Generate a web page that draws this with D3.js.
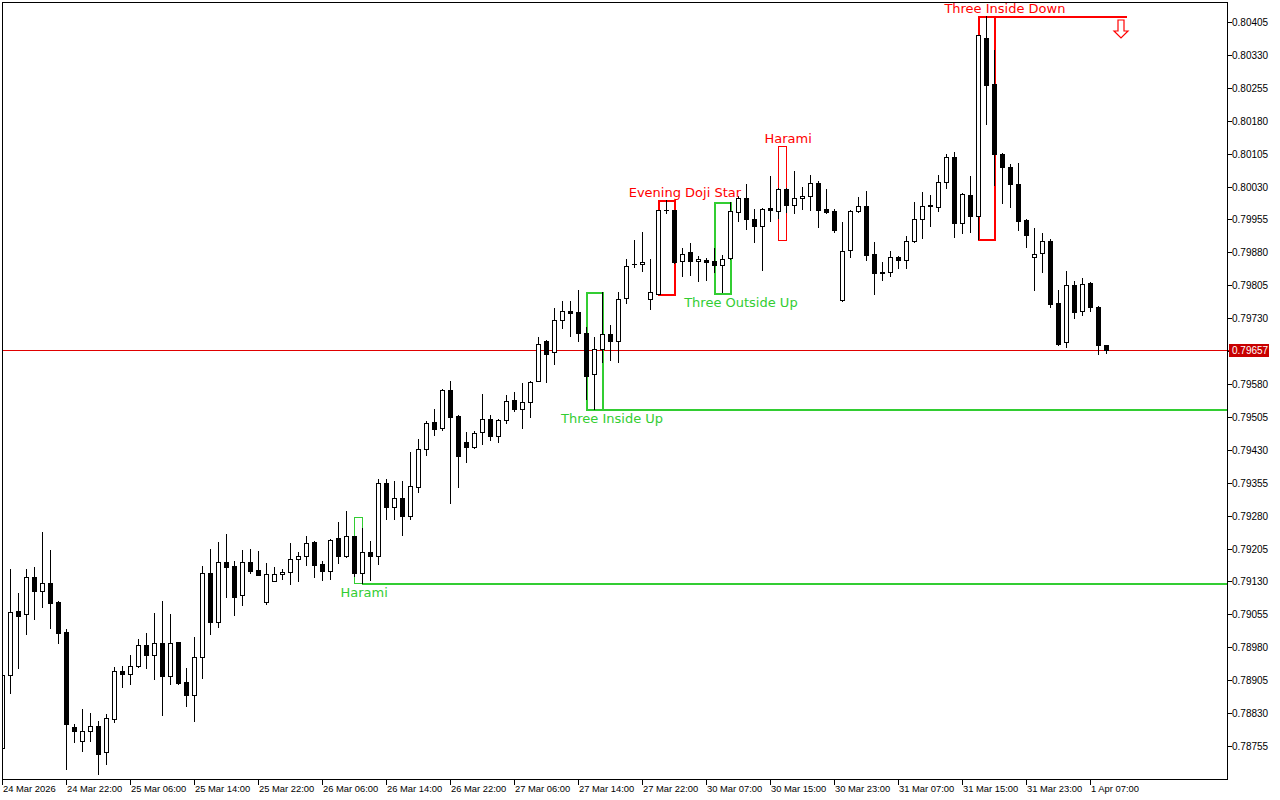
<!DOCTYPE html>
<html><head><meta charset="utf-8">
<script src="https://cdn.jsdelivr.net/npm/d3@7"></script>
<style>body{margin:0;background:#fff;overflow:hidden}</style>
</head><body><svg id="c" width="1280" height="800"></svg>
<script>
const opens = [0.78750,0.78917,0.79063,0.79056,0.79140,0.79108,0.79126,0.79083,0.79015,0.78798,
0.78766,0.78789,0.78801,0.78741,0.78817,0.78926,0.78919,0.78937,0.78985,0.78962,
0.78990,0.78915,0.78992,0.78901,0.78871,0.78958,0.79149,0.79038,0.79174,0.79165,
0.79099,0.79174,0.79156,0.79083,0.79131,0.79147,0.79152,0.79181,0.79188,0.79220,
0.79170,0.79154,0.79229,0.79188,0.79234,0.79149,0.79197,0.79188,0.79354,0.79300,
0.79320,0.79279,0.79345,0.79432,0.79493,0.79480,0.79566,0.79507,0.79448,0.79436,
0.79471,0.79500,0.79461,0.79498,0.79544,0.79523,0.79539,0.79587,0.79678,0.79653,
0.79726,0.79746,0.79744,0.79696,0.79603,0.79660,0.79694,0.79678,0.79776,0.79853,
0.79853,0.79774,0.79785,0.79977,0.79977,0.79860,0.79881,0.79860,0.79863,0.79860,
0.79851,0.79867,0.79972,0.80004,0.79956,0.79940,0.79981,0.79974,0.80024,0.79988,
0.80004,0.80008,0.80038,0.79979,0.79974,0.79771,0.79885,0.79974,0.79986,0.79876,
0.79835,0.79835,0.79869,0.79863,0.79906,0.79956,0.79988,0.79983,0.80040,0.80097,
0.79947,0.80011,0.79963,0.80369,0.80264,0.80104,0.80075,0.80036,0.79954,0.79869,
0.79879,0.79906,0.79765,0.79676,0.79806,0.79746,0.79810,0.79755,0.79669];
const highs = [0.78924,0.79158,0.79104,0.79158,0.79163,0.79243,0.79202,0.79085,0.79022,0.78805,
0.78839,0.78830,0.78812,0.78828,0.78935,0.78937,0.78962,0.78999,0.79012,0.79058,
0.79085,0.79056,0.78993,0.78933,0.79003,0.79165,0.79204,0.79220,0.79238,0.79177,
0.79202,0.79204,0.79199,0.79172,0.79163,0.79158,0.79218,0.79197,0.79234,0.79222,
0.79177,0.79227,0.79266,0.79291,0.79234,0.79252,0.79222,0.79364,0.79364,0.79359,
0.79359,0.79425,0.79455,0.79496,0.79523,0.79568,0.79587,0.79509,0.79471,0.79473,
0.79557,0.79509,0.79500,0.79555,0.79562,0.79582,0.79587,0.79687,0.79680,0.79753,
0.79769,0.79769,0.79794,0.79710,0.79687,0.79790,0.79715,0.79790,0.79865,0.79908,
0.79926,0.79865,0.79977,0.79999,0.79977,0.79890,0.79901,0.79872,0.79867,0.79890,
0.79874,0.79995,0.80008,0.80036,0.79979,0.79981,0.80054,0.80026,0.80026,0.80065,
0.80029,0.80056,0.80043,0.80024,0.79979,0.79949,0.79977,0.80006,0.80020,0.79904,
0.79858,0.79883,0.79872,0.79917,0.79995,0.80018,0.80011,0.80056,0.80104,0.80109,
0.80015,0.80054,0.80375,0.80419,0.80341,0.80107,0.80081,0.80084,0.79955,0.79936,
0.79924,0.79910,0.79794,0.79837,0.79815,0.79822,0.79812,0.79758,0.79670];
const lows = [0.78746,0.78876,0.78933,0.79010,0.79044,0.79072,0.79024,0.78990,0.78703,0.78764,
0.78744,0.78766,0.78691,0.78714,0.78810,0.78890,0.78896,0.78935,0.78933,0.78908,
0.78826,0.78896,0.78897,0.78846,0.78812,0.78910,0.79010,0.79026,0.79095,0.79054,
0.79076,0.79149,0.79144,0.79079,0.79130,0.79136,0.79124,0.79131,0.79168,0.79140,
0.79133,0.79136,0.79172,0.79186,0.79142,0.79126,0.79133,0.79170,0.79272,0.79272,
0.79236,0.79272,0.79334,0.79418,0.79464,0.79475,0.79309,0.79345,0.79402,0.79434,
0.79443,0.79452,0.79448,0.79491,0.79518,0.79480,0.79505,0.79586,0.79585,0.79626,
0.79708,0.79689,0.79678,0.79546,0.79523,0.79630,0.79635,0.79630,0.79765,0.79847,
0.79837,0.79751,0.79785,0.79970,0.79855,0.79826,0.79828,0.79815,0.79817,0.79836,
0.79790,0.79865,0.79951,0.79933,0.79904,0.79840,0.79951,0.79958,0.79972,0.79970,
0.79979,0.79977,0.79938,0.79970,0.79926,0.79769,0.79869,0.79973,0.79863,0.79785,
0.79817,0.79826,0.79844,0.79844,0.79904,0.79913,0.79940,0.79974,0.80027,0.79915,
0.79924,0.79926,0.79910,0.80173,0.80034,0.79993,0.79983,0.79931,0.79892,0.79794,
0.79835,0.79755,0.79670,0.79664,0.79730,0.79737,0.79746,0.79648,0.79651];
const closes = [0.78917,0.79060,0.79051,0.79140,0.79108,0.79126,0.79081,0.79012,0.78805,0.78789,
0.78789,0.78801,0.78737,0.78819,0.78926,0.78919,0.78937,0.78985,0.78962,0.78990,
0.78915,0.78990,0.78899,0.78871,0.78958,0.79149,0.79038,0.79174,0.79163,0.79095,
0.79174,0.79154,0.79145,0.79147,0.79147,0.79152,0.79181,0.79188,0.79218,0.79168,
0.79154,0.79225,0.79188,0.79234,0.79149,0.79197,0.79188,0.79354,0.79300,0.79320,
0.79279,0.79348,0.79432,0.79491,0.79477,0.79566,0.79505,0.79416,0.79436,0.79468,
0.79500,0.79461,0.79498,0.79541,0.79523,0.79539,0.79585,0.79671,0.79648,0.79726,
0.79746,0.79742,0.79696,0.79598,0.79660,0.79694,0.79678,0.79774,0.79849,0.79853,
0.79858,0.79790,0.79977,0.79977,0.79858,0.79876,0.79860,0.79865,0.79858,0.79851,
0.79865,0.79974,0.80004,0.79956,0.79940,0.79979,0.79977,0.80024,0.79988,0.80004,
0.80008,0.80038,0.79977,0.79972,0.79931,0.79883,0.79974,0.79986,0.79874,0.79833,
0.79833,0.79869,0.79863,0.79906,0.79956,0.79986,0.79986,0.80040,0.80097,0.79947,
0.80013,0.79963,0.80375,0.80261,0.80104,0.80075,0.80036,0.79951,0.79920,0.79876,
0.79906,0.79762,0.79671,0.79806,0.79744,0.79808,0.79755,0.79669,0.79657];

const priceTicks = [0.80405,0.80330,0.80255,0.80180,0.80105,0.80030,0.79955,0.79880,0.79805,0.79730,
0.79655,0.79580,0.79505,0.79430,0.79355,0.79280,0.79205,0.79130,0.79055,0.78980,0.78905,0.78830,0.78755];
const timeTickBars = [0,8,16,24,32,40,48,56,64,72,80,88,96,104,112,120,128,136];
const timeLabels = ["24 Mar 2026","24 Mar 22:00","25 Mar 06:00","25 Mar 14:00","25 Mar 22:00","26 Mar 06:00",
"26 Mar 14:00","26 Mar 22:00","27 Mar 06:00","27 Mar 14:00","27 Mar 22:00","30 Mar 07:00","30 Mar 15:00",
"30 Mar 23:00","31 Mar 07:00","31 Mar 15:00","31 Mar 23:00","1 Apr 07:00"];
const currentPrice = 0.79657;

const patternNames = ["Harami","Three Inside Up","Evening Doji Star","Three Outside Up","Harami","Three Inside Down"];
const patternStart = [44,73,82,89,97,122];
const patternEnd = [45,75,84,91,98,124];
const patternTop = [0.79277,0.79790,0.79999,0.79995,0.80122,0.80419];
const patternBottom = [0.79126,0.79522,0.79785,0.79787,0.79908,0.79910];
const patternBull = [true,true,false,true,false,false];
const patternLabelBar = [45.2,76.2,85.3,92.3,98.2,125.3];
const levelLineEndBar = [null,null,null,null,null,140.5];
const arrowBar = 139.8, arrowPrice = 0.80410;

const GREEN = "#32cd32", RED = "#ff0000";
const svg = d3.select("#c");
const plotL = 2, plotT = 2, plotR = 1227, plotB = 779;

const x = d3.scaleLinear().domain([0, 138]).range([2.5, 1106.5]);
const y = d3.scaleLinear().domain([0.78755, 0.80405]).range([746, 22]);
const ry = v => Math.round(y(v));

svg.append("rect").attr("x",0).attr("y",0).attr("width",1280).attr("height",800).attr("fill","#fff");

const clipId = "plotclip";
svg.append("clipPath").attr("id",clipId).append("rect")
  .attr("x",plotL+1).attr("y",plotT+1).attr("width",plotR-plotL-1).attr("height",plotB-plotT-1);
const plot = svg.append("g").attr("clip-path",`url(#${clipId})`).attr("shape-rendering","crispEdges");

// current price line
plot.append("rect").attr("x",plotL).attr("y",ry(currentPrice)).attr("width",plotR-plotL).attr("height",1).attr("fill","#e00000");

// pattern boxes and level lines
const pats = patternNames.map((n,i)=>({n,i,s:patternStart[i],e:patternEnd[i],t:patternTop[i],b:patternBottom[i],
  bull:patternBull[i],lb:patternLabelBar[i],le:levelLineEndBar[i]}));
const sw = [1,2,2,2,1,2];
pats.forEach(p=>{
  const col = p.bull?GREEN:RED;
  const x0 = Math.round(x(p.s)-0.5), x1 = Math.round(x(p.e)-0.5);
  const yt = ry(p.t), yb = ry(p.b), w = sw[p.i];
  plot.append("rect").attr("x",x0+w/2).attr("y",yt+w/2).attr("width",x1-x0).attr("height",yb-yt)
    .attr("fill","none").attr("stroke",col).attr("stroke-width",w);
  if (p.i===0 || p.i===1) {
    plot.append("rect").attr("x",x1).attr("y",yb).attr("width",plotR-x1).attr("height",2).attr("fill",col);
  }
  if (p.le!==null) {
    plot.append("rect").attr("x",x1).attr("y",yt).attr("width",x(p.le)-x1).attr("height",2).attr("fill",col);
  }
});

// candles
const bars = opens.map((o,i)=>({i,o,h:highs[i],l:lows[i],c:closes[i]}));
const cg = plot.append("g");
bars.forEach(d=>{
  const cx = Math.round(x(d.i)-0.5);
  const yh = ry(d.h), yl = ry(d.l);
  cg.append("rect").attr("x",cx).attr("y",yh).attr("width",1).attr("height",Math.max(1,yl-yh+1)).attr("fill","#000");
  const top = ry(Math.max(d.o,d.c)), bot = ry(Math.min(d.o,d.c));
  const hgt = Math.max(1, bot-top+1);
  cg.append("rect").attr("x",cx-2).attr("y",top).attr("width",5).attr("height",hgt).attr("fill","#000");
  if (d.c>d.o && hgt>2) {
    cg.append("rect").attr("x",cx-1).attr("y",top+1).attr("width",3).attr("height",hgt-2).attr("fill","#fff");
  }
});

// arrow
const ax = Math.round(x(arrowBar)), ay = ry(arrowPrice);
plot.append("path").attr("shape-rendering","auto")
  .attr("d",`M${ax-3},${ay} L${ax+3},${ay} L${ax+3},${ay+11} L${ax+7},${ay+11} L${ax},${ay+18} L${ax-7},${ay+11} L${ax-3},${ay+11} Z`)
  .attr("fill","#fff").attr("stroke",RED).attr("stroke-width",1.2);

// pattern labels
pats.forEach(p=>{
  const col = p.bull?GREEN:RED;
  const above = (p.i===2||p.i===4||p.i===5);
  const ly = above ? ry(p.t)-8 : ry(p.b)+9;
  svg.append("text").attr("x",x(p.lb)).attr("y",ly).attr("text-anchor","middle").attr("dominant-baseline","central")
    .attr("font-family","DejaVu Sans").attr("font-size",13).attr("fill",col).text(p.n);
});

// frame
svg.append("rect").attr("x",plotL+0.5).attr("y",plotT+0.5).attr("width",plotR-plotL).attr("height",plotB-plotT)
  .attr("fill","none").attr("stroke","#000").attr("stroke-width",1).attr("shape-rendering","crispEdges");

// price axis
const pa = svg.append("g").attr("shape-rendering","crispEdges");
priceTicks.forEach(t=>{
  const yy = ry(t);
  pa.append("rect").attr("x",plotR+1).attr("y",yy).attr("width",4).attr("height",1).attr("fill","#000");
  pa.append("text").attr("x",plotR+5).attr("y",yy+0.5).attr("dominant-baseline","central")
    .attr("font-family","Liberation Sans, Arial, sans-serif").attr("font-size",10).attr("fill","#000")
    .text(t.toFixed(5));
});
const cy = ry(currentPrice);
pa.append("rect").attr("x",plotR+1).attr("y",cy).attr("width",4).attr("height",1).attr("fill","#c80000");
pa.append("rect").attr("x",plotR+2).attr("y",cy-6).attr("width",40).attr("height",13).attr("fill","#c80000");
pa.append("text").attr("x",plotR+5).attr("y",cy+0.5).attr("dominant-baseline","central")
  .attr("font-family","Liberation Sans, Arial, sans-serif").attr("font-size",10).attr("fill","#fff")
  .text(currentPrice.toFixed(5));

// time axis
const ta = svg.append("g").attr("shape-rendering","crispEdges");
timeTickBars.forEach((b,k)=>{
  const xx = Math.round(x(b)-0.5);
  ta.append("rect").attr("x",xx).attr("y",plotB+1).attr("width",1).attr("height",5).attr("fill","#000");
  ta.append("text").attr("x",xx+1).attr("y",792)
    .attr("font-family","Liberation Sans, Arial, sans-serif").attr("font-size",9.4).attr("fill","#000")
    .text(timeLabels[k]);
});
</script></body></html>
